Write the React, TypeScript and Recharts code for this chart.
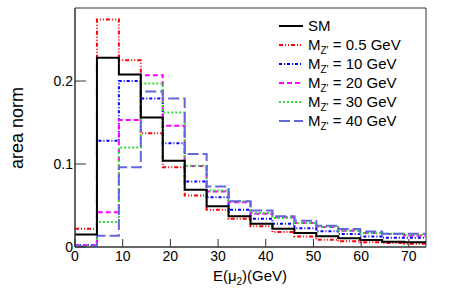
import React from 'react'
import { ComposedChart, Line, XAxis, YAxis, ReferenceArea, Label } from 'recharts'

// bin edges of E(mu2) in GeV (16 bins)
const edges = [0, 4.6, 9.2, 13.8, 18.4, 23, 27.6, 32.2, 36.8, 41.4, 46, 50.6, 55.2, 59.8, 64.4, 69, 73.6]

const sm = [0.015, 0.228, 0.208, 0.156, 0.104, 0.069, 0.049, 0.037, 0.028, 0.022, 0.017, 0.013, 0.0104, 0.0084, 0.0064, 0.0056]
const mz05 = [0.022, 0.274, 0.225, 0.137, 0.096, 0.062, 0.045, 0.034, 0.025, 0.018, 0.0128, 0.0088, 0.0068, 0.0056, 0.0048, 0.004]
const mz10 = [0.002, 0.128, 0.2, 0.179, 0.125, 0.079, 0.06, 0.045, 0.034, 0.028, 0.0225, 0.019, 0.0157, 0.0128, 0.011, 0.011]
const mz20 = [0.002, 0.042, 0.153, 0.207, 0.146, 0.0976, 0.067, 0.054, 0.04, 0.036, 0.029, 0.024, 0.0196, 0.0169, 0.0157, 0.0136]
const mz30 = [0.001, 0.03, 0.12, 0.197, 0.162, 0.098, 0.068, 0.055, 0.041, 0.035, 0.029, 0.0245, 0.02, 0.017, 0.016, 0.0145]
const mz40 = [0.001, 0.0136, 0.096, 0.1875, 0.179, 0.112, 0.073, 0.055, 0.044, 0.037, 0.0317, 0.0257, 0.0217, 0.0188, 0.016, 0.016]

const xTicks = [0, 10, 20, 30, 40, 50, 60, 70]
const yTicks = [0, 0.1, 0.2]

const FONT = '"Liberation Sans", Arial, Helvetica, sans-serif'

const series = [
  { key: 'mz05', values: mz05, mass: '0.5', color: '#ff0000', dash: '4 2 1 2 1 2' },
  { key: 'mz10', values: mz10, mass: '10', color: '#0000ff', dash: '3 2 1 2' },
  { key: 'mz20', values: mz20, mass: '20', color: '#ff00ff', dash: '5 3' },
  { key: 'mz30', values: mz30, mass: '30', color: '#33dd33', dash: '2 2' },
  { key: 'mz40', values: mz40, mass: '40', color: '#6666dd', dash: '11 4' },
]

// histogram table: one point per edge, last edge repeats the last bin
const data = edges.map((e, i) => {
  const b = Math.min(i, sm.length - 1)
  const row: Record<string, number> = { x: e, sm: sm[b] }
  series.forEach(s => { row[s.key] = s.values[b] })
  return row
})

const XTick = (p: any) => (
  <g>
    <line x1={p.x} x2={p.x} y1={p.y} y2={p.y - 8} stroke="#333" strokeWidth={1} />
    <text x={p.x} y={p.y + 14} textAnchor="middle" fontSize={14} fontFamily={FONT} fill="#000">
      {p.payload.value}
    </text>
  </g>
)

const YTick = (p: any) => (
  <g>
    <line x1={p.x} x2={p.x + 11} y1={p.y} y2={p.y} stroke="#333" strokeWidth={1} />
    <text x={p.x - 2} y={p.y + 5} textAnchor="end" fontSize={14} fontFamily={FONT} fill="#000">
      {p.payload.value}
    </text>
  </g>
)

function LegendBox() {
  const rows = [{ key: 'sm', color: '#000', dash: undefined as string | undefined, mass: '' }, ...series]
  return (
    <svg width={449} height={304} style={{ position: 'absolute', left: 0, top: 0, pointerEvents: 'none' }}>
      {rows.map((r, i) => {
        const y = 26 + i * 19
        return (
          <g key={r.key}>
            <line x1={279} x2={303} y1={y} y2={y} stroke={r.color} strokeWidth={2} strokeDasharray={r.dash} />
            <text x={308} y={y + 5} fontSize={15} fontFamily={FONT} fill="#000">
              {r.key === 'sm' ? 'SM' : (
                <>
                  M
                  <tspan fontSize={10} dy={4}>Z'</tspan>
                  <tspan dy={-4}>{` = ${r.mass} GeV`}</tspan>
                </>
              )}
            </text>
          </g>
        )
      })}
    </svg>
  )
}

export default function App() {
  return (
    <div style={{ position: 'absolute', left: 0, top: 0, width: 449, height: 304 }}>
      <ComposedChart width={449} height={304} data={data} margin={{ top: 8, right: 23, bottom: 17, left: 0 }}>
        <XAxis
          dataKey="x"
          type="number"
          domain={[0, 73.6]}
          ticks={xTicks}
          allowDataOverflow
          height={40}
          tickSize={0}
          tickMargin={0}
          tickLine={false}
          axisLine={{ stroke: '#333' }}
          tick={XTick}
          interval={0}
        >
          <Label
            content={() => (
              <text x={250} y={281} textAnchor="middle" fontSize={15} fontFamily={FONT} fill="#000">
                E(μ<tspan fontSize={10} dy={4}>2</tspan><tspan dy={-4}>)(GeV)</tspan>
              </text>
            )}
          />
        </XAxis>
        <YAxis
          type="number"
          domain={[0, 0.288]}
          ticks={yTicks}
          allowDataOverflow
          width={75}
          tickSize={0}
          tickMargin={0}
          tickLine={false}
          axisLine={{ stroke: '#333' }}
          tick={YTick}
          interval={0}
        >
          <Label
            content={() => (
              <text
                x={0}
                y={0}
                transform="translate(23 128) rotate(-90)"
                textAnchor="middle"
                fontSize={18}
                fontFamily={FONT}
                fill="#000"
              >
                area norm
              </text>
            )}
          />
        </YAxis>
        <ReferenceArea x1={0} x2={73.6} y1={0} y2={0.288} fill="none" stroke="#333" strokeWidth={1} />
        {series.map(s => (
          <Line
            key={s.key}
            dataKey={s.key}
            type="stepAfter"
            stroke={s.color}
            strokeWidth={2}
            strokeDasharray={s.dash}
            dot={false}
            activeDot={false}
            isAnimationActive={false}
          />
        ))}
        <Line dataKey="sm" type="stepAfter" stroke="#000" strokeWidth={2} dot={false} activeDot={false} isAnimationActive={false} />
      </ComposedChart>
      <LegendBox />
    </div>
  )
}
